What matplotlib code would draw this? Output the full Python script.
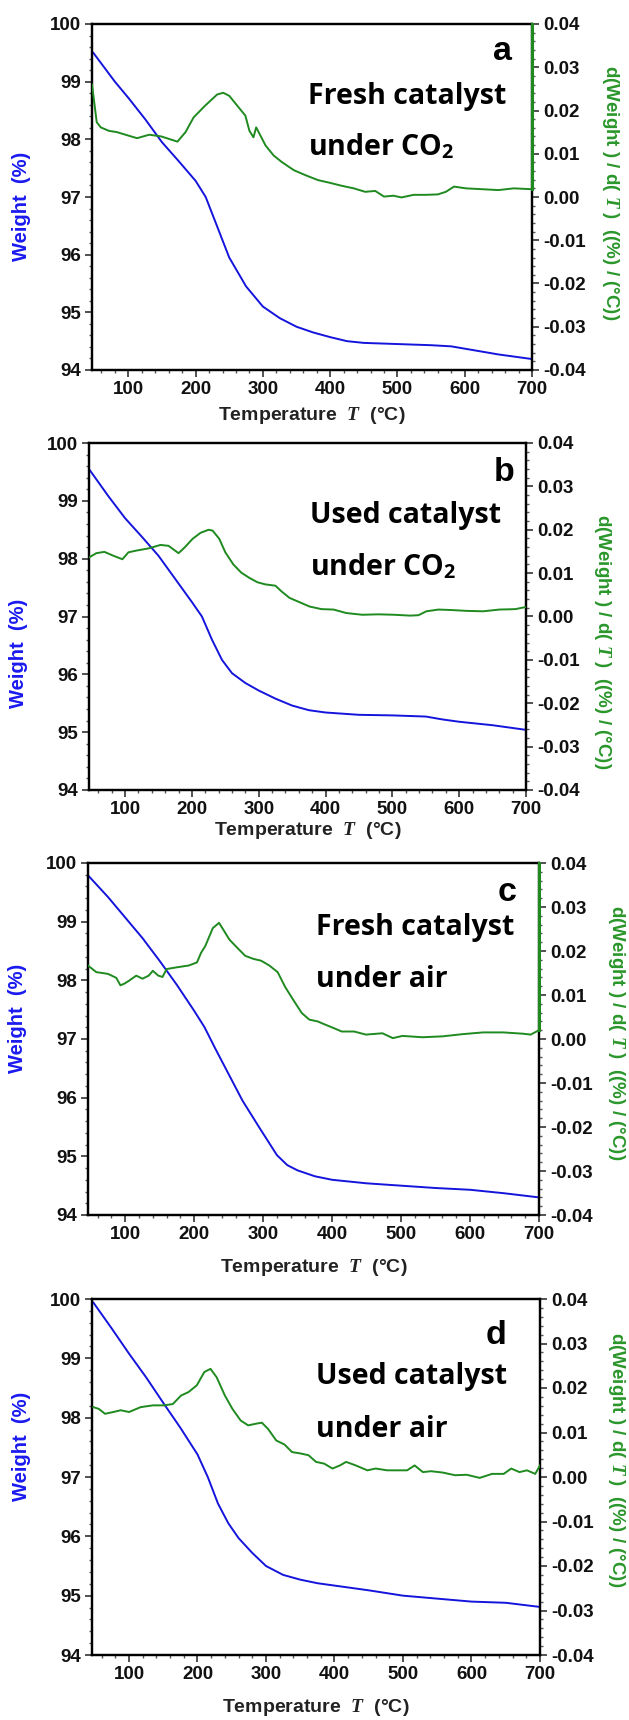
import matplotlib
matplotlib.use("Agg")
import matplotlib.pyplot as plt
from matplotlib.ticker import MultipleLocator, FuncFormatter

plt.rcParams['font.family'] = ['Liberation Sans', 'DejaVu Sans']
plt.rcParams['font.weight'] = 'bold'
plt.rcParams['mathtext.fontset'] = 'custom'
plt.rcParams['mathtext.it'] = 'Liberation Serif:italic'
plt.rcParams['mathtext.rm'] = 'Liberation Sans:bold'
plt.rcParams['mathtext.bf'] = 'Open Sans:bold'
plt.rcParams['axes.unicode_minus'] = False

# ---------------- TGA data: weight (%) and derivative (%/°C) vs temperature (°C)
# (a) fresh catalyst under CO2
temp_a_w = [48, 80, 100, 125, 150, 175, 200, 215, 230, 250, 275, 300, 325, 350, 375,
            400, 425, 450, 500, 550, 580, 600, 650, 700]
weight_a = [99.50, 99.0, 98.72, 98.35, 97.95, 97.62, 97.28, 97.0, 96.55, 95.95, 95.45,
            95.1, 94.9, 94.75, 94.65, 94.57, 94.5, 94.47, 94.45, 94.43, 94.41, 94.37,
            94.27, 94.19]
temp_a_d = [46, 53, 59, 71, 83, 100, 113, 131, 149, 173, 185, 197, 214, 232, 241, 250,
            262, 274, 280, 286, 290, 295, 304, 316, 328, 346, 364, 382, 399, 417, 435,
            452, 467, 480, 494, 506, 524, 542, 560, 572, 584, 602, 626, 650, 673, 700]
deriv_a = [0.026, 0.0173, 0.0161, 0.0153, 0.015, 0.0142, 0.0136, 0.0144, 0.014, 0.0128,
           0.015, 0.0184, 0.0211, 0.0237, 0.0241, 0.0234, 0.0211, 0.0188, 0.0153, 0.0138,
           0.0161, 0.0146, 0.0119, 0.0096, 0.0081, 0.0062, 0.005, 0.0039, 0.0033, 0.0026,
           0.002, 0.0012, 0.0014, 0.0001, 0.0003, -0.0001, 0.0005, 0.0005, 0.0006, 0.0012,
           0.0024, 0.002, 0.0018, 0.0016, 0.002, 0.0018]

# (b) used catalyst under CO2
temp_b_w = [46, 75, 100, 125, 150, 175, 200, 215, 230, 245, 260, 280, 300, 325, 350, 375,
            400, 450, 500, 550, 575, 600, 650, 700]
weight_b = [99.55, 99.08, 98.7, 98.38, 98.05, 97.65, 97.25, 97.0, 96.6, 96.25, 96.02,
            95.85, 95.72, 95.58, 95.46, 95.38, 95.34, 95.3, 95.29, 95.27, 95.22, 95.18,
            95.12, 95.04]
temp_b_d = [46, 57, 69, 81, 96, 105, 117, 135, 153, 165, 180, 189, 201, 213, 225, 231, 241,
            250, 262, 274, 286, 298, 310, 325, 334, 346, 358, 376, 394, 412, 431, 455, 479,
            503, 527, 539, 551, 569, 587, 611, 636, 660, 684, 700]
deriv_b = [0.0136, 0.0146, 0.0149, 0.0141, 0.0132, 0.0148, 0.0152, 0.0157, 0.0165, 0.0163,
           0.0146, 0.0159, 0.0179, 0.0193, 0.02, 0.0198, 0.0179, 0.0148, 0.012, 0.0101,
           0.0089, 0.0079, 0.0074, 0.0071, 0.0058, 0.0043, 0.0035, 0.0023, 0.0017, 0.0016,
           0.0008, 0.0004, 0.0005, 0.0004, 0.0002, 0.0003, 0.0012, 0.0016, 0.0015, 0.0013,
           0.0012, 0.0016, 0.0017, 0.0022]

# (c) fresh catalyst under air
temp_c_w = [46, 75, 100, 125, 150, 175, 200, 215, 230, 250, 270, 295, 320, 335, 350, 375,
            400, 450, 500, 550, 600, 650, 700]
weight_c = [99.79, 99.42, 99.07, 98.72, 98.33, 97.92, 97.48, 97.2, 96.85, 96.4, 95.95,
            95.48, 95.02, 94.85, 94.76, 94.66, 94.6, 94.54, 94.5, 94.46, 94.43, 94.37, 94.3]
temp_c_d = [46, 58, 75, 87, 93, 99, 105, 116, 125, 134, 140, 148, 154, 160, 175, 192, 204,
            210, 216, 227, 236, 242, 251, 262, 274, 286, 297, 309, 321, 332, 344, 356, 367,
            379, 391, 402, 414, 432, 449, 473, 488, 502, 531, 560, 589, 619, 648, 677, 688,
            700]
deriv_c = [0.0167, 0.0152, 0.0148, 0.0139, 0.0122, 0.0126, 0.0132, 0.0144, 0.0137, 0.0144,
           0.0155, 0.0144, 0.0141, 0.0159, 0.0163, 0.0167, 0.0174, 0.0196, 0.0211, 0.0252,
           0.0264, 0.0249, 0.0226, 0.0208, 0.0189, 0.0182, 0.0178, 0.0167, 0.0152, 0.0118,
           0.0088, 0.0059, 0.0044, 0.004, 0.0032, 0.0025, 0.0017, 0.0017, 0.001, 0.0013,
           0.0002, 0.0007, 0.0004, 0.0006, 0.0011, 0.0015, 0.0015, 0.0012, 0.001, 0.002]

# (d) used catalyst under air
temp_d_w = [48, 75, 100, 125, 150, 175, 200, 215, 230, 245, 260, 280, 300, 325, 350, 375,
            400, 450, 500, 550, 600, 650, 700]
weight_d = [99.94, 99.5, 99.08, 98.68, 98.25, 97.83, 97.38, 97.0, 96.55, 96.22, 95.97,
            95.72, 95.5, 95.35, 95.27, 95.21, 95.17, 95.09, 95.0, 94.95, 94.9, 94.88, 94.81]
temp_d_d = [48, 56, 65, 77, 88, 100, 117, 135, 152, 164, 176, 187, 199, 210, 219, 228, 240,
            251, 263, 274, 286, 294, 303, 315, 327, 338, 350, 362, 373, 385, 397, 408, 417,
            431, 448, 460, 477, 494, 506, 517, 529, 541, 558, 576, 593, 612, 630, 647, 658,
            670, 681, 693, 700]
deriv_d = [0.0157, 0.0153, 0.0142, 0.0146, 0.015, 0.0146, 0.0157, 0.0161, 0.0161, 0.0164,
           0.0183, 0.0191, 0.0206, 0.0236, 0.0243, 0.0224, 0.0183, 0.0153, 0.0127, 0.0116,
           0.012, 0.0122, 0.0108, 0.0082, 0.0073, 0.0056, 0.0053, 0.0049, 0.0034, 0.003,
           0.0019, 0.0026, 0.0034, 0.0026, 0.0015, 0.0019, 0.0015, 0.0015, 0.0015, 0.0026,
           0.0011, 0.0013, 0.001, 0.0004, 0.0005, -0.0002, 0.0007, 0.0007, 0.0019, 0.0011,
           0.0015, 0.0007, 0.0026]

panel_letters = ['a', 'b', 'c', 'd']
line1_text = ['Fresh catalyst', 'Used catalyst', 'Fresh catalyst', 'Used catalyst']
line2_text = ['under CO$_\\mathbf{2}$', 'under CO$_\\mathbf{2}$', 'under air', 'under air']
weights = [(temp_a_w, weight_a), (temp_b_w, weight_b), (temp_c_w, weight_c), (temp_d_w, weight_d)]
derivs = [(temp_a_d, deriv_a), (temp_b_d, deriv_b), (temp_c_d, deriv_c), (temp_d_d, deriv_d)]
green_edge = [True, False, True, False]

x_ticks = [100, 200, 300, 400, 500, 600, 700]
w_ticks = [94, 95, 96, 97, 98, 99, 100]
d_ticks = [-0.04, -0.03, -0.02, -0.01, 0.0, 0.01, 0.02, 0.03, 0.04]

# ---------------- layout (pixels): left, top, right, bottom of each plot box
W, H = 629, 1720
boxes = [(92, 24, 532, 370), (89, 443, 526, 790), (88, 863, 539, 1215), (92, 1299, 540, 1655)]
letter_pos = [(0.954, 0.897), (0.974, 0.890), (0.95, 0.892), (0.924, 0.874)]
text1_pos = [(0.49, 0.768), (0.505, 0.77), (0.505, 0.796), (0.50, 0.762)]
text2_y = [0.62, 0.618, 0.648, 0.612]
wlabel_y = [0.474, 0.395, 0.56, 0.587]
dlabel_x_px = [611, 603, 617, 616]
dlabel_y = [0.514, 0.427, 0.517, 0.548]
xlabel_off = [45, 41, 53, 52]

BLUE = '#1414dc'
GREEN = '#1f8a1f'
BLUE_LABEL = '#1a1af0'
GREEN_LABEL = '#2a962a'
XLABEL_COLOR = '#222222'

fig = plt.figure(figsize=(W / 100, H / 100), dpi=100)
fmt_w = FuncFormatter(lambda v, p: f"{v:.0f}")
fmt_d = FuncFormatter(lambda v, p: f"{v:.2f}")

for i in range(4):
    l, t, r, b = boxes[i]
    ax = fig.add_axes([l / W, 1 - b / H, (r - l) / W, (b - t) / H])
    ax2 = ax.twinx()

    tw, wv = weights[i]
    td, dv = derivs[i]
    ax.plot(tw, wv, color=BLUE, lw=1.4, zorder=3)
    ax2.plot(td, dv, color=GREEN, lw=1.4, zorder=3)
    if green_edge[i]:
        ax2.plot([td[-1], td[-1]], [dv[-1], d_ticks[-1]], color=GREEN, lw=2.2,
                 clip_on=False, zorder=4)

    ax.set_xlim(46, 700)
    ax.set_ylim(94, 100)
    ax2.set_ylim(-0.04, 0.04)

    ax.set_xticks(x_ticks)
    ax.xaxis.set_minor_locator(MultipleLocator(20))
    ax.set_yticks(w_ticks)
    ax.yaxis.set_minor_locator(MultipleLocator(0.2))
    ax.yaxis.set_major_formatter(fmt_w)
    ax2.set_yticks(d_ticks)
    ax2.yaxis.set_minor_locator(MultipleLocator(0.002))
    ax2.yaxis.set_major_formatter(fmt_d)

    for a in (ax, ax2):
        a.tick_params(which='major', direction='out', length=5, width=1.2, pad=3,
                      labelsize=13.5, color='#333333', labelcolor='#111111')
        a.tick_params(which='minor', direction='out', length=2.5, width=1.0, color='#555555')
        for sp in a.spines.values():
            sp.set_linewidth(1.6)
            sp.set_color('black')

    ax.text(0.5, -xlabel_off[i] / (b - t), 'Temperature  $\\mathit{T}$  (°C)',
            transform=ax.transAxes, ha='center', va='center', fontsize=14,
            fontweight='bold', color=XLABEL_COLOR)
    ax.text(-70 / (r - l), wlabel_y[i], 'Weight  (%)', transform=ax.transAxes,
            rotation=90, ha='center', va='center', fontsize=14.5, fontweight='bold',
            color=BLUE_LABEL)
    ax.text((dlabel_x_px[i] - l) / (r - l), dlabel_y[i],
            'd(Weight ) / d( $\\mathit{T}$ )  ((%) / (°C))', transform=ax.transAxes,
            rotation=270, ha='center', va='center', fontsize=13.5, fontweight='bold',
            color=GREEN_LABEL)

    ax.text(letter_pos[i][0], letter_pos[i][1], panel_letters[i], transform=ax.transAxes,
            ha='right', va='baseline', fontsize=24.5, fontweight='bold', color='black',
            zorder=5)
    ax.text(text1_pos[i][0], text1_pos[i][1], line1_text[i], transform=ax.transAxes,
            ha='left', va='baseline', fontsize=20.5, fontweight='bold',
            family=['Open Sans', 'DejaVu Sans'], color='black', zorder=5)
    ax.text(text1_pos[i][0], text2_y[i], line2_text[i], transform=ax.transAxes,
            ha='left', va='baseline', fontsize=20.5, fontweight='bold',
            family=['Open Sans', 'DejaVu Sans'], color='black', zorder=5)

fig.savefig('out.png', dpi=100)
